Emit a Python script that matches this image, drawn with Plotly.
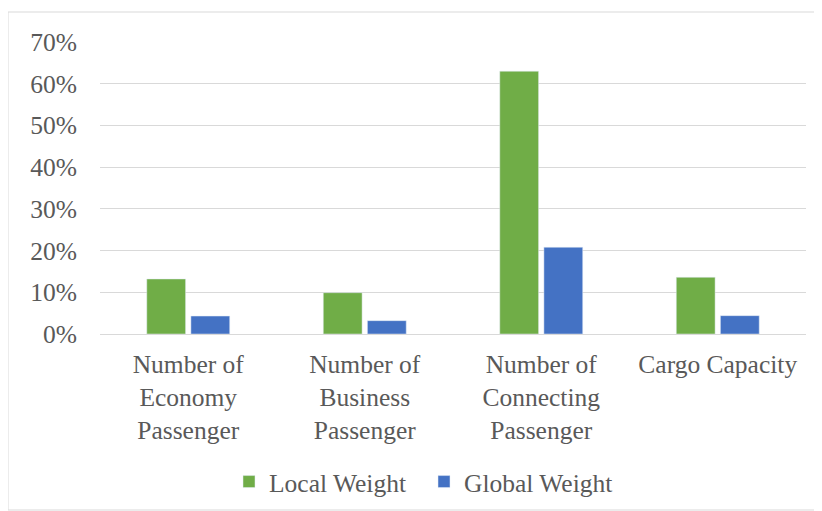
import plotly.graph_objects as go

categories = ["Number of<br>Economy<br>Passenger", "Number of<br>Business<br>Passenger",
              "Number of<br>Connecting<br>Passenger", "Cargo Capacity"]
local_weight = [0.132, 0.099, 0.630, 0.136]
global_weight = [0.043, 0.032, 0.208, 0.044]

FONT = "Liberation Serif, Times New Roman, serif"
TXT = "#595959"
FS = 25.5

fig = go.Figure()
fig.add_trace(go.Bar(name="Local Weight", x=categories, y=local_weight, marker_color="#70AD47"))
fig.add_trace(go.Bar(name="Global Weight", x=categories, y=global_weight, marker_color="#4472C4"))

# page offset of 8px (body margin) -> coordinates in figure space
OFF = 8
L, R, T, B = 100 - OFF, 806 - OFF, 42 - OFF, 334 - OFF
W, H = 822, 511
pw, ph = R - L, B - T

def px(x):
    return (x - OFF - L) / pw

def py(y):
    return (B - (y - OFF)) / ph

fig.update_layout(
    width=W, height=H,
    margin=dict(l=L, r=W - R, t=T, b=H - B),
    paper_bgcolor="white", plot_bgcolor="white",
    barmode="group", bargap=0.5, bargroupgap=0.12,
    font=dict(family=FONT, size=FS, color=TXT),
    showlegend=True,
    legend=dict(orientation="h", x=px(229), xanchor="left", y=py(482), yanchor="middle",
                font=dict(family=FONT, size=FS, color=TXT), itemwidth=30,
                entrywidth=150, entrywidthmode="pixels", tracegroupgap=0),
    shapes=[dict(type="rect", xref="paper", yref="paper",
                 x0=px(8), x1=px(821), y0=py(510), y1=py(12),
                 line=dict(color="#D9D9D9", width=1), fillcolor="rgba(0,0,0,0)", layer="below")],
)
fig.update_yaxes(range=[0, 0.7], dtick=0.1, tickformat=".0%", showgrid=True,
                 gridcolor="#D9D9D9", gridwidth=1, zeroline=True, zerolinecolor="#D9D9D9",
                 zerolinewidth=1, showline=False, ticklabelstandoff=22,
                 tickfont=dict(family=FONT, size=FS, color=TXT))
fig.update_xaxes(showline=False, showgrid=False, ticks="", ticklabelstandoff=12,
                 tickfont=dict(family=FONT, size=FS, color=TXT))

fig.write_html("out.html")
